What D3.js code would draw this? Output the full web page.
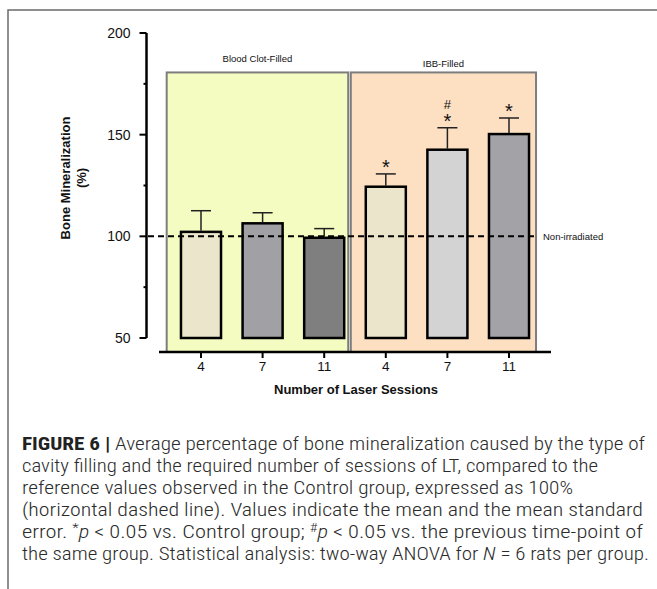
<!DOCTYPE html>
<html><head><meta charset="utf-8">
<script src="https://cdn.jsdelivr.net/npm/d3@7"></script>
<style>body{margin:0;background:#fff}svg{display:block}</style>
</head><body>
<svg id="c" width="657" height="589"></svg>
<script>
const categories = ["4","7","11","4","7","11"];
const groups = ["Blood Clot-Filled","Blood Clot-Filled","Blood Clot-Filled","IBB-Filled","IBB-Filled","IBB-Filled"];
const groupNames = ["Blood Clot-Filled","IBB-Filled"];
const means = [102.2, 106.4, 99.3, 124.4, 142.6, 150.3];
const errors = [10.4, 5.2, 4.5, 6.3, 10.8, 7.9];
const marks = ["", "", "", "*", "#*", "*"];
const barColors = ["#ebe5cc","#a1a1a5","#7f7f7f","#ebe5cc","#d3d3d3","#a3a2a6"];
const yTicks = [50,100,150,200];
const yMinorTicks = [75,125,175];
const reference = 100;
const groupTop = 180.6;

const svg = d3.select("#c");
const font = "'Liberation Sans', Arial, sans-serif";
const ids = d3.range(categories.length);
const x = d3.scaleBand().domain(ids).range([170.2, 539.8]).paddingInner(0.35).paddingOuter(0.175);
const y = d3.scaleLinear().domain([50,200]).range([338,33]);

// outer frame
svg.append("path").attr("d","M8,589V10H657").attr("fill","none").attr("stroke","#6b6b6b").attr("stroke-width",1.5);

// group boxes
const boxes = [
  {x0: x(0)-14.3, x1: x(2)+x.bandwidth()+4, fill:"#f4fcc2", name: groupNames[0], ly: 62},
  {x0: x(3)-15, x1: x(5)+x.bandwidth()+7, fill:"#fde0c2", name: groupNames[1], ly: 67}
];
boxes.forEach(b=>{
  svg.append("rect").attr("x",b.x0).attr("y",y(groupTop)).attr("width",b.x1-b.x0).attr("height",352-y(groupTop))
    .attr("fill",b.fill).attr("stroke","#7d7d7d").attr("stroke-width",2);
  svg.append("text").attr("x",(b.x0+b.x1)/2).attr("y",b.ly).attr("text-anchor","middle")
    .attr("font-family",font).attr("font-size",9.5).attr("fill","#111").text(b.name);
});

// bars
svg.selectAll(".bar").data(ids).join("rect")
  .attr("x",i=>x(i)).attr("width",x.bandwidth())
  .attr("y",i=>y(means[i])).attr("height",i=>y(50)-y(means[i]))
  .attr("fill",i=>barColors[i]).attr("stroke","#000").attr("stroke-width",2.5);

// error bars and significance marks
ids.forEach(i=>{
  const cx = x(i)+x.bandwidth()/2;
  const top = y(means[i]+errors[i]);
  svg.append("line").attr("x1",cx).attr("x2",cx).attr("y1",y(means[i])-1).attr("y2",top).attr("stroke","#222").attr("stroke-width",1.5);
  svg.append("line").attr("x1",cx-10).attr("x2",cx+10).attr("y1",top).attr("y2",top).attr("stroke","#222").attr("stroke-width",1.5);
  const m = marks[i];
  if (m) {
    const chars = m.split("").reverse();
    chars.forEach((ch,k)=>{
      const center = top - 11 - k*12.5;
      if (ch==="*") {
        svg.append("text").attr("x",cx).attr("y",center+11.5).attr("text-anchor","middle")
          .attr("font-family",font).attr("font-size",20).attr("fill","#111").text(ch);
      } else {
        svg.append("text").attr("x",cx).attr("y",center+4.6).attr("text-anchor","middle")
          .attr("font-family",font).attr("font-size",13).attr("fill","#111").text(ch);
      }
    });
  }
});

// reference dashed line
svg.append("line").attr("x1",148).attr("x2",536).attr("y1",y(reference)).attr("y2",y(reference))
  .attr("stroke","#000").attr("stroke-width",2).attr("stroke-dasharray","6,4");
svg.append("text").attr("x",543).attr("y",y(reference)+3.5).attr("font-family",font).attr("font-size",9.5).attr("fill","#111").text("Non-irradiated");

// y axis
const ya = svg.append("g").attr("transform","translate(146.5,0)");
ya.append("line").attr("x1",0).attr("x2",0).attr("y1",y(200)).attr("y2",y(50)).attr("stroke","#000").attr("stroke-width",2.5);
ya.selectAll(".maj").data(yTicks).join("line").attr("x1",-7).attr("x2",0).attr("y1",d=>y(d)).attr("y2",d=>y(d)).attr("stroke","#000").attr("stroke-width",2);
ya.selectAll(".min").data(yMinorTicks).join("line").attr("x1",-3).attr("x2",0).attr("y1",d=>y(d)).attr("y2",d=>y(d)).attr("stroke","#000").attr("stroke-width",2);
ya.selectAll(".lab").data(yTicks).join("text").attr("x",-16).attr("y",d=>y(d)+5).attr("text-anchor","end")
  .attr("font-family",font).attr("font-size",14).attr("fill","#111").text(d=>d);

// x axis
svg.append("line").attr("x1",159).attr("x2",551).attr("y1",352).attr("y2",352).attr("stroke","#000").attr("stroke-width",2.5);
ids.forEach(i=>{
  const cx = x(i)+x.bandwidth()/2;
  svg.append("line").attr("x1",cx).attr("x2",cx).attr("y1",352).attr("y2",358).attr("stroke","#000").attr("stroke-width",2);
  svg.append("text").attr("x",cx).attr("y",371).attr("text-anchor","middle").attr("font-family",font).attr("font-size",13.5).attr("fill","#111").text(categories[i]);
});
svg.append("text").attr("x",356).attr("y",394).attr("text-anchor","middle").attr("font-family",font).attr("font-size",13)
  .attr("font-weight","bold").attr("fill","#111").text("Number of Laser Sessions");

// y title
const yt = svg.append("g").attr("transform","translate(70,178) rotate(-90)");
yt.append("text").attr("x",0).attr("y",0).attr("text-anchor","middle").attr("font-family",font).attr("font-size",13).attr("font-weight","bold").attr("fill","#111").text("Bone Mineralization");
yt.append("text").attr("x",0).attr("y",16).attr("text-anchor","middle").attr("font-family",font).attr("font-size",13).attr("font-weight","bold").attr("fill","#111").text("(%)");

// caption
const cf = "'Roboto Condensed', 'Liberation Sans', Arial, sans-serif";
const lines = [
  [["b","FIGURE 6 |"],["n"," Average percentage of bone mineralization caused by the type of"]],
  [["n","cavity filling and the required number of sessions of LT, compared to the"]],
  [["n","reference values observed in the Control group, expressed as 100%"]],
  [["n","(horizontal dashed line). Values indicate the mean and the mean standard"]],
  [["n","error. "],["sup","*"],["i","p"],["n"," < 0.05 vs. Control group; "],["sup","#"],["i","p"],["n"," < 0.05 vs. the previous time-point of"]],
  [["n","the same group. Statistical analysis: two-way ANOVA for "],["i","N"],["n"," = 6 rats per group."]]
];
const lineEnds = [645, 598, 573, 643, 643, 649];
lines.forEach((ln,k)=>{
  const t = svg.append("text").attr("x",22).attr("y",450+k*22).attr("font-family",cf).attr("font-size",18)
    .attr("font-weight",300).attr("fill","#2b2b2b")
    .attr("textLength",lineEnds[k]-22).attr("lengthAdjust","spacingAndGlyphs");
  let prevSup = false;
  ln.forEach(([s,txt])=>{
    const ts = t.append("tspan").text(txt);
    if (s==="b") ts.attr("font-weight","bold").attr("fill","#222");
    if (s==="i") ts.attr("font-style","italic");
    if (s==="sup") ts.attr("font-size",12).attr("dy",-6);
    else if (prevSup) ts.attr("dy",6);
    prevSup = (s==="sup");
  });
});
</script>
</body></html>
